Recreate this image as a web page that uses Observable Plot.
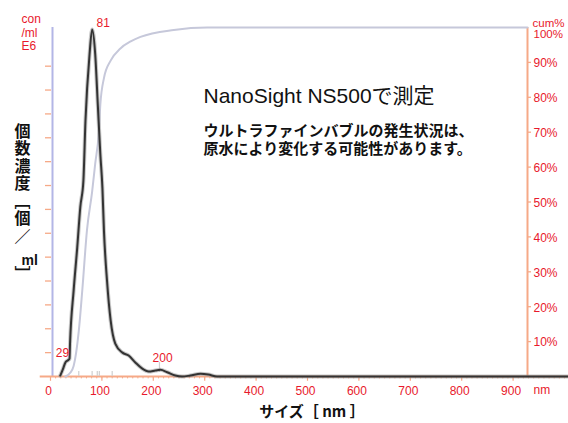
<!DOCTYPE html>
<html><head><meta charset="utf-8">
<script src="https://cdn.jsdelivr.net/npm/d3@7"></script>
<script src="https://cdn.jsdelivr.net/npm/@observablehq/plot@0.6"></script>
<style>body{margin:0;background:#fff;overflow:hidden}</style>
</head><body><div id="chart"></div>
<script>
// number concentration distribution (size nm, concentration E6/ml)
const concSize = [19, 24, 29, 34, 37, 38, 45, 52, 58, 64, 68, 76, 81, 87, 92, 97, 101, 104, 110, 117, 126, 140, 152, 165, 178, 191, 204, 214, 227, 243, 256, 272, 292, 307, 324, 1050];
const concVal  = [0.04, 0.3, 0.59, 0.68, 0.75, 1.38, 3.6, 5.4, 7.1, 8.2, 10.7, 13.5, 14.54, 13.5, 11.4, 9.3, 7.9, 6.1, 4.0, 2.35, 1.38, 1.0, 0.88, 0.59, 0.34, 0.21, 0.25, 0.28, 0.18, 0.04, 0, 0.04, 0.11, 0.08, 0, 0];
// cumulative %
const cumSize = [29, 38, 45, 55, 62, 71, 81, 87, 94, 97, 104, 117, 136, 156, 175, 240, 305, 928];
const cumVal  = [0, 1, 3, 13, 25, 42, 53, 61, 70, 78, 85.5, 90.5, 94, 96, 97.3, 99.3, 100, 100];
// peak labels
const peakSize = [81, 29, 218];
const peakVal  = [14.54, 0.59, 0.28];
const peakText = ["81", "29", "200"];
// faint peak markers
const markSize = [55, 81, 91, 95, 120, 212];
const markTop  = [0.21, 0.21, 0.21, 0.21, 0.21, 0.59];
const markBot  = [0, 0, 0, 0, 0, 0.17];
// ticks
const xTicks = [0, 100, 200, 300, 400, 500, 600, 700, 800, 900];
const xMinor = d3.range(0, 1060, 10);
const leftTicks = [1,2,3,4,5,6,7,8,9,10,11,12,13];
const cumTicks = [10, 20, 30, 40, 50, 60, 70, 80, 90];
const cumTop = [100];
// y title pieces (vertical writing)
const yTitleMain = "個数濃度［個／";
const yTitleUnit = "ml";
const yTitleEnd = "］";

const xMax = 928, yMax = 14.62;
const axisExtent = [-20, 1060];
const RED = "#e8192c", ORANGE = "#f6a987", BLUE = "#b3b6e6";
const FONT = '"Liberation Sans", Arial, "Noto Sans CJK JP", sans-serif';
const JFONT = '"Noto Sans CJK JP", "Liberation Sans", sans-serif';

const conc = concSize.map((s, i) => ({x: s, y: concVal[i]}));
const cum = cumSize.map((s, i) => ({x: s, y: cumVal[i] / 100 * yMax}));
const peaks = peakSize.map((s, i) => ({x: s, y: peakVal[i], t: peakText[i]}));
const marks = markSize.map((s, i) => ({x: s, y1: markBot[i], y2: markTop[i]}));

const chart = Plot.plot({
  width: 568, height: 423,
  marginLeft: 50, marginRight: 41, marginTop: 27, marginBottom: 47,
  style: {fontFamily: FONT, background: "#fff"},
  x: {domain: [0, xMax], axis: null},
  y: {domain: [0, yMax], axis: null},
  marks: [
    // left axis ticks (orange) and blue axis line
    Plot.axisY({ticks: leftTicks, anchor: "left", tickSize: 6, tickFormat: () => "", label: null, stroke: ORANGE, strokeWidth: 1.3, dx: 1}),
    Plot.ruleX([0], {dx: 2, stroke: BLUE, strokeWidth: 2}),
    // right axis
    Plot.ruleX([xMax], {stroke: ORANGE, strokeWidth: 2}),
    Plot.axisY({ticks: cumTicks.map(c => c / 100 * yMax), anchor: "right", tickSize: 3, tickFormat: () => "", label: null, stroke: ORANGE, strokeWidth: 1.3}),
    // baseline and x ticks
    Plot.ruleX(xMinor, {x: d => d, y1: 0, y2: -0.1, stroke: ORANGE, strokeWidth: 1}),
    Plot.ruleX(xTicks, {x: d => d, y1: 0, y2: -0.2, stroke: ORANGE, strokeWidth: 1.2}),
    Plot.ruleY([0], {x1: axisExtent[0], x2: axisExtent[1], stroke: ORANGE, strokeWidth: 2}),
    // faint markers
    Plot.ruleX(marks, {x: "x", y1: "y1", y2: "y2", stroke: "#cfcfcf", strokeWidth: 1.2}),
    // cumulative curve
    Plot.line(cum, {x: "x", y: "y", stroke: "#c6c8da", strokeWidth: 2, curve: "monotone-x"}),
    // concentration curve
    Plot.line(conc, {x: "x", y: "y", stroke: "#9a9a9a", strokeWidth: 4, strokeOpacity: 0.55, curve: "monotone-x"}),
    Plot.line(conc, {x: "x", y: "y", stroke: "#333", strokeWidth: 2, curve: "monotone-x"}),
    // peak labels
    Plot.text(peaks.slice(0, 1), {x: "x", y: "y", text: "t", fill: RED, fontSize: 12, dx: 11, dy: -6}),
    Plot.text(peaks.slice(1, 2), {x: "x", y: "y", text: "t", fill: RED, fontSize: 12, dx: -3, dy: -9}),
    Plot.text(peaks.slice(2, 3), {x: "x", y: "y", text: "t", fill: RED, fontSize: 12, dx: 0, dy: -12}),
    // x axis labels
    Plot.axisX({ticks: xTicks, tickSize: 0, tickPadding: 10, label: null, fill: RED, fontSize: 12, dx: -2}),
    Plot.text(["nm"], {frameAnchor: "bottom-right", dx: 6, dy: 17, textAnchor: "start", fill: RED, fontSize: 12}),
    // right labels
    Plot.text(cumTicks, {x: xMax, y: d => d / 100 * yMax, text: d => d + "%", dx: 6, dy: 1, textAnchor: "start", fill: RED, fontSize: 12}),
    Plot.text(cumTop, {x: xMax, y: d => d / 100 * yMax, text: d => d + "%", dx: 6, dy: 7, textAnchor: "start", fill: RED, fontSize: 11.5}),
    Plot.text(["cum%"], {frameAnchor: "top-right", dx: 5, dy: -9, textAnchor: "start", fill: RED, fontSize: 11.5}),
    Plot.text(["con\n/ml\nE6"], {frameAnchor: "top-left", dx: -29, dy: 5, textAnchor: "start", lineAnchor: "middle", lineHeight: 1.12, fill: RED, fontSize: 12}),
    // titles
    Plot.text(["NanoSight NS500で測定"], {frameAnchor: "top-left", dx: 153, dy: 61, textAnchor: "start", fontSize: 21, fill: "#111", fontFamily: FONT}),
    Plot.text(["ウルトラファインバブルの発生状況は、\n原水により変化する可能性があります。"], {frameAnchor: "top-left", dx: 153, dy: 112, textAnchor: "start", lineAnchor: "middle", lineHeight: 1.18, fontSize: 15, fontWeight: "bold", fill: "#111", fontFamily: FONT}),
    // y title: vertical writing
    Plot.text([yTitleMain], {frameAnchor: "top-left", dx: -28, dy: 95, textAnchor: "start", fontSize: 16, fontWeight: "bold", fill: "#111", fontFamily: JFONT, className: "vtitle"}),
    Plot.text([yTitleUnit], {frameAnchor: "top-left", dx: -29, dy: 228, fontSize: 14, fontWeight: "bold", fill: "#111", fontFamily: FONT}),
    Plot.text([yTitleEnd], {frameAnchor: "top-left", dx: -28, dy: 238, textAnchor: "start", fontSize: 16, fontWeight: "bold", fill: "#111", fontFamily: JFONT, className: "vtitle"}),
    Plot.text(["サイズ［ nm ］"], {frameAnchor: "bottom", dx: 23, dy: 40, fontSize: 15, fontWeight: "bold", fill: "#111", fontFamily: JFONT})
  ]
});
d3.select(chart).selectAll("g.vtitle text")
  .attr("writing-mode", "vertical-rl")
  .style("writing-mode", "vertical-rl")
  .style("letter-spacing", "1.5px")
  .attr("y", null);
document.getElementById("chart").appendChild(chart);
</script>
</body></html>
